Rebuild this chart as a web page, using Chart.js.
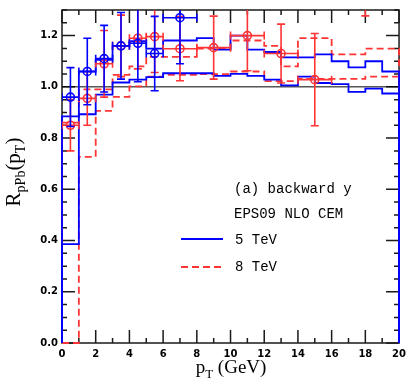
<!DOCTYPE html>
<html>
<head>
<meta charset="utf-8">
<script src="https://cdn.jsdelivr.net/npm/chart.js@4.4.1/dist/chart.umd.min.js"></script>
<style>
html, body { margin: 0; padding: 0; background: #fff; }
</style>
</head>
<body>
<canvas id="chart" width="411" height="390"></canvas>
<script>
// bin edges of the EPS09 NLO CEM histograms (GeV)
const binEdges = [0,1,2,3,4,5,6,7,8,9,10,11,12,13,14,15,16,17,18,19,20]

// 5 TeV band (blue, solid)
const hi5 = [0.885,1.06,1.105,1.159,1.178,1.149,1.181,1.181,1.19,1.145,1.2,1.145,1.136,1.115,1.115,1.127,1.10,1.076,1.10,1.06]
const lo5 = [0.386,0.893,0.97,1.017,1.028,1.038,1.053,1.053,1.053,1.043,1.051,1.043,1.028,1.006,1.04,1.015,1.011,0.98,0.993,0.974]

// 8 TeV band (red, dashed)
const hi8 = [0.86,0.99,0.99,1.047,1.08,1.117,1.117,1.117,1.149,1.149,1.181,1.181,1.16,1.08,1.19,1.19,1.127,1.127,1.149,1.149]
const lo8 = [0,0.727,0.906,0.961,1.002,1.04,1.047,1.047,1.05,1.05,1.06,1.06,1.022,1.022,1.031,1.031,1.031,1.031,1.04,1.04]

// data, 5 TeV
const pt5 = [0.5,1.5,2.5,3.5,4.5,5.5,7]
const dpt5 = [0.5,0.5,0.5,0.5,0.5,0.5,1]
const r5 = [0.96,1.06,1.11,1.16,1.17,1.13,1.27]
const dr5 = [0.115,0.13,0.13,0.13,0.15,0.145,0.18]

// data, 8 TeV
const pt8 = [0.5,1.5,2.5,3.5,4.5,5.5,7,9,11,13,15,18]
const dpt8 = [0.5,0.5,0.5,0.5,0.5,0.5,1,1,1,1,1,2]
const r8 = [0.85,0.955,1.09,1.16,1.19,1.196,1.149,1.153,1.2,1.13,1.028,1.40]
const dr8 = [0.1,0.105,0.13,0.12,0.12,0.14,0.125,0.123,0.137,0.115,0.18,0.123]

const unityLine = [1, 1]

const BLUE = '#0000ff'
const RED = '#ff3434'
const SERIF = '"Liberation Serif", "Times New Roman", serif'

function stepData(vals) {
    const pts = [{x: binEdges[0], y: 0}]
    vals.forEach((v, i) => pts.push({x: binEdges[i], y: v}))
    pts.push({x: binEdges[binEdges.length - 1], y: vals[vals.length - 1]})
    pts.push({x: binEdges[binEdges.length - 1], y: 0})
    return pts
}

function points(xs, ys) {
    return xs.map((x, i) => ({x: x, y: ys[i]}))
}

function histo(vals, color, dashed) {
    return {
        type: 'line',
        data: stepData(vals),
        stepped: 'before',
        borderColor: color,
        borderWidth: 1.8,
        borderDash: dashed ? [7, 4] : [],
        pointRadius: 0,
        fill: false,
        clip: 3,
    }
}

// frame with inward ticks, drawn under the curves
const frame = {
    id: 'frame',
    beforeDatasetsDraw(chart) {
        const {ctx, chartArea: a, scales: {x, y}} = chart
        ctx.save()
        ctx.strokeStyle = '#1a1a1a'
        ctx.lineWidth = 1.5
        ctx.strokeRect(a.left, a.top, a.right - a.left, a.bottom - a.top)
        ctx.beginPath()
        for (let v = 0; v <= 20; v++) {
            const len = v % 2 === 0 ? 13 : 5
            const px = x.getPixelForValue(v)
            ctx.moveTo(px, a.bottom); ctx.lineTo(px, a.bottom - len)
            ctx.moveTo(px, a.top); ctx.lineTo(px, a.top + len)
        }
        for (let i = 0; i <= 26; i++) {
            const len = i % 4 === 0 ? 13 : 5
            const py = y.getPixelForValue(i * 0.05)
            ctx.moveTo(a.left, py); ctx.lineTo(a.left + len, py)
            ctx.moveTo(a.right, py); ctx.lineTo(a.right - len, py)
        }
        ctx.stroke()
        ctx.restore()
    }
}

// error bars drawn just before each data set's circles
const errBars = {
    id: 'errBars',
    beforeDatasetDraw(chart, args) {
        const ds = chart.data.datasets[args.index]
        if (!ds.errX) return
        const {ctx, chartArea: a, scales: {x, y}} = chart
        ctx.save()
        ctx.beginPath()
        ctx.rect(a.left, a.top, a.right - a.left, a.bottom - a.top)
        ctx.clip()
        ctx.strokeStyle = ds.borderColor
        ctx.lineWidth = 1.6
        const c = 4
        ds.data.forEach((p, i) => {
            const px = x.getPixelForValue(p.x)
            const py = y.getPixelForValue(p.y)
            const x0 = x.getPixelForValue(p.x - ds.errX[i])
            const x1 = x.getPixelForValue(p.x + ds.errX[i])
            const y0 = y.getPixelForValue(p.y - ds.errY[i])
            const y1 = y.getPixelForValue(p.y + ds.errY[i])
            ctx.beginPath()
            ctx.moveTo(x0, py); ctx.lineTo(x1, py)
            ctx.moveTo(x0, py - c); ctx.lineTo(x0, py + c)
            ctx.moveTo(x1, py - c); ctx.lineTo(x1, py + c)
            ctx.moveTo(px, y0); ctx.lineTo(px, y1)
            ctx.moveTo(px - c, y0); ctx.lineTo(px + c, y0)
            ctx.moveTo(px - c, y1); ctx.lineTo(px + c, y1)
            ctx.stroke()
        })
        ctx.restore()
    }
}

function drawParts(ctx, parts, x, y, size, subSize, drop) {
    let w = 0
    for (const p of parts) {
        ctx.font = (p[1] ? subSize : size) + 'px ' + SERIF
        w += ctx.measureText(p[0]).width
    }
    let cx = x - w / 2
    for (const p of parts) {
        ctx.font = (p[1] ? subSize : size) + 'px ' + SERIF
        ctx.fillText(p[0], cx, y + (p[1] ? drop : 0))
        cx += ctx.measureText(p[0]).width
    }
}

// axis titles and legend
const labels = {
    id: 'labels',
    afterDraw(chart) {
        const {ctx} = chart
        ctx.save()
        ctx.fillStyle = '#000'
        ctx.textBaseline = 'alphabetic'
        ctx.textAlign = 'left'
        drawParts(ctx, [['p', 0], ['T', 1], [' (GeV)', 0]], 231, 373, 19, 13, 5)
        ctx.save()
        ctx.translate(20, 172)
        ctx.rotate(-Math.PI / 2)
        drawParts(ctx, [['R', 0], ['pPb', 1], ['(p', 0], ['T', 1], [')', 0]], 0, 0, 21, 14, 5)
        ctx.restore()

        ctx.font = '14px "Liberation Mono", monospace'
        ctx.fillText('(a) backward y', 234, 193)
        ctx.fillText('EPS09 NLO CEM', 234, 218)
        ctx.fillText('5 TeV', 235, 244)
        ctx.fillText('8 TeV', 235, 271)
        ctx.lineWidth = 1.8
        ctx.strokeStyle = BLUE
        ctx.beginPath(); ctx.moveTo(181, 239); ctx.lineTo(223, 239); ctx.stroke()
        ctx.strokeStyle = RED
        ctx.setLineDash([7, 4])
        ctx.beginPath(); ctx.moveTo(181, 267); ctx.lineTo(223, 267); ctx.stroke()
        ctx.restore()
    }
}

new Chart(document.getElementById('chart'), {
    type: 'scatter',
    data: {
        datasets: [
            {
                label: '5 TeV data',
                data: points(pt5, r5),
                errX: dpt5, errY: dr5,
                borderColor: BLUE, backgroundColor: 'rgba(0,0,0,0)',
                pointRadius: 4, borderWidth: 1.6,
            },
            {
                label: '8 TeV data',
                data: points(pt8, r8),
                errX: dpt8, errY: dr8,
                borderColor: RED, backgroundColor: 'rgba(0,0,0,0)',
                pointRadius: 4, borderWidth: 1.6,
            },
            histo(hi5, BLUE, false),
            histo(lo5, BLUE, false),
            histo(hi8, RED, true),
            histo(lo8, RED, true),
            {
                type: 'line',
                data: points([0, 20], unityLine),
                borderColor: '#000', borderWidth: 1,
                pointRadius: 0,
            },
        ]
    },
    options: {
        responsive: false,
        animation: false,
        devicePixelRatio: 1,
        layout: {padding: {top: 4, right: 9, left: 0, bottom: 0}},
        plugins: {legend: {display: false}, tooltip: {enabled: false}},
        scales: {
            x: {
                type: 'linear', min: 0, max: 20,
                grid: {display: false, drawTicks: false},
                border: {display: false},
                ticks: {
                    stepSize: 2, padding: 5, maxRotation: 0, color: '#000',
                    font: {family: '"DejaVu Sans"', size: 10, weight: 'bold'},
                },
                afterFit: (s) => { s.height = 47 },
            },
            y: {
                type: 'linear', min: 0, max: 1.3,
                grid: {display: false, drawTicks: false},
                border: {display: false},
                ticks: {
                    stepSize: 0.2, padding: 4, includeBounds: false, color: '#000',
                    font: {family: '"DejaVu Sans"', size: 10, weight: 'bold'},
                    callback: (v) => v.toFixed(1),
                },
                afterFit: (s) => { s.width = 62 },
            }
        }
    },
    plugins: [frame, errBars, labels]
})
</script>
</body>
</html>
